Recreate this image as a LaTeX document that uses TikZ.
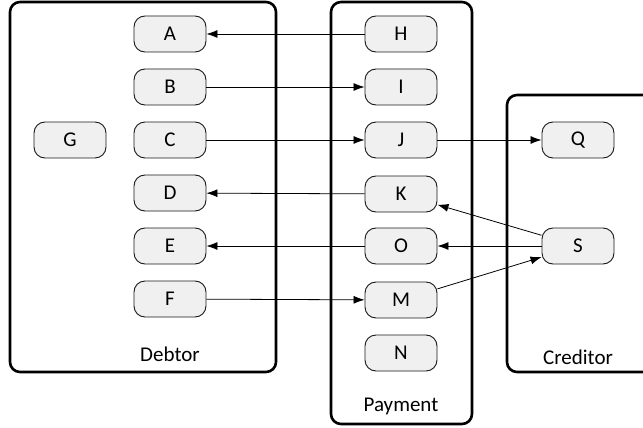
\documentclass[tikz,border=0pt]{standalone}
\usepackage{fontspec}
\setmainfont{Carlito}
\usetikzlibrary{arrows.meta}
\begin{document}
\begin{tikzpicture}[x=1pt,y=-1pt,
  item/.style={draw=black!90,line width=0.9pt,fill=black!6,rounded corners=11pt,
    minimum width=72pt,minimum height=36pt,inner sep=0pt,font=\fontsize{21}{25}\selectfont},
  group/.style={draw=black,line width=2.6pt,rounded corners=10pt},
  lbl/.style={font=\fontsize{21}{25}\selectfont,inner sep=0pt},
  conn/.style={draw=black,line width=0.8pt,-{Latex[length=11pt,width=8pt]}}]
\clip (0,0) rectangle (643,428);
\draw[group] (10,2) rectangle (276,372);
\draw[group] (331,2) rectangle (472,424);
\draw[group] (507,95) rectangle (660,372);
\node[lbl] (debtor) at (170,354) {Debtor};
\node[lbl] (payment) at (401,406) {Payment};
\node[lbl] (creditor) at (578,357) {Creditor};
\node[item] (A) at (170,34) {A};
\node[item] (B) at (170,87) {B};
\node[item] (C) at (170,140) {C};
\node[item] (D) at (170,193) {D};
\node[item] (E) at (170,246) {E};
\node[item] (F) at (170,299) {F};
\node[item] (G) at (70,140) {G};
\node[item] (H) at (401,34) {H};
\node[item] (I) at (401,87) {I};
\node[item] (J) at (401,140) {J};
\node[item] (K) at (401,194) {K};
\node[item] (O) at (401,246) {O};
\node[item] (M) at (401,300) {M};
\node[item] (N) at (401,353) {N};
\node[item] (Q) at (578,140) {Q};
\node[item] (S) at (578,246) {S};
\draw[conn] (H) -- (A);
\draw[conn] (B) -- (I);
\draw[conn] (C) -- (J);
\draw[conn] (J) -- (Q);
\draw[conn] (K) -- (D);
\draw[conn] (O) -- (E);
\draw[conn] (F) -- (M);
\draw[conn] (S) -- (K);
\draw[conn] (S) -- (O);
\draw[conn] (M) -- (S);
\end{tikzpicture}
\end{document}
